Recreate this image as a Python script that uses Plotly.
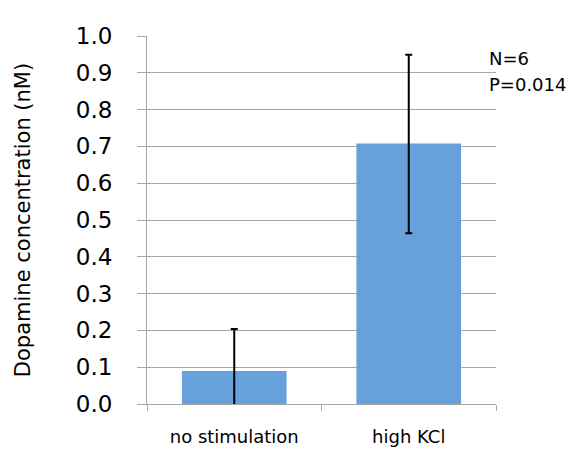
import plotly.graph_objects as go

# --- data -----------------------------------------------------------------
CATEGORIES = ["no stimulation", "high KCl"]
DOPAMINE_NM = [0.090, 0.708]
ERR_PLUS = [0.114, 0.241]
ERR_MINUS = [0.114, 0.244]   # first one runs below 0 and is clipped by the axis
NOTE_N = "N=6"
NOTE_P = "P=0.014"

BAR_BLUE = "#66A1DB"
GRID = "#A6A6A6"
FONT = "DejaVu Sans, Liberation Sans, sans-serif"

fig = go.Figure()
fig.add_trace(go.Bar(
    x=CATEGORIES, y=DOPAMINE_NM, width=0.6,
    marker=dict(color=BAR_BLUE, line=dict(width=0)),
    error_y=dict(type="data", symmetric=False, array=ERR_PLUS, arrayminus=ERR_MINUS,
                 color="black", thickness=2, width=3.5)))

# N / P note sits just right of the plot area, top corner
for txt, ypos in ((NOTE_N, 0.940), (NOTE_P, 0.867)):
    fig.add_annotation(text=txt, xref="paper", yref="paper", x=0.975, y=ypos,
                       xanchor="left", yanchor="middle", showarrow=False,
                       font=dict(family=FONT, size=18, color="black"))

# page body adds an 8px margin, so the figure is 8px smaller and shifted margins
fig.update_layout(
    width=572, height=451, paper_bgcolor="white", plot_bgcolor="white",
    margin=dict(l=139, r=84, t=28, b=55), showlegend=False,
    font=dict(family=FONT, color="black"))
fig.update_xaxes(showline=True, linecolor=GRID, linewidth=1, ticks="outside",
                 tickson="boundaries", ticklen=6, tickcolor=GRID,
                 tickfont=dict(size=18, family=FONT), ticklabelstandoff=16,
                 showgrid=False)
fig.update_yaxes(range=[0, 1.0], dtick=0.1, tickformat=".1f", showline=True,
                 linecolor=GRID, linewidth=1, ticks="outside", ticklen=9,
                 tickcolor=GRID, gridcolor=GRID, gridwidth=1, zeroline=False,
                 tickfont=dict(size=23, family=FONT), ticklabelstandoff=20,
                 title=dict(text="Dopamine concentration (nM)", standoff=39,
                            font=dict(size=21, family=FONT)))

fig.write_html("out.html")
